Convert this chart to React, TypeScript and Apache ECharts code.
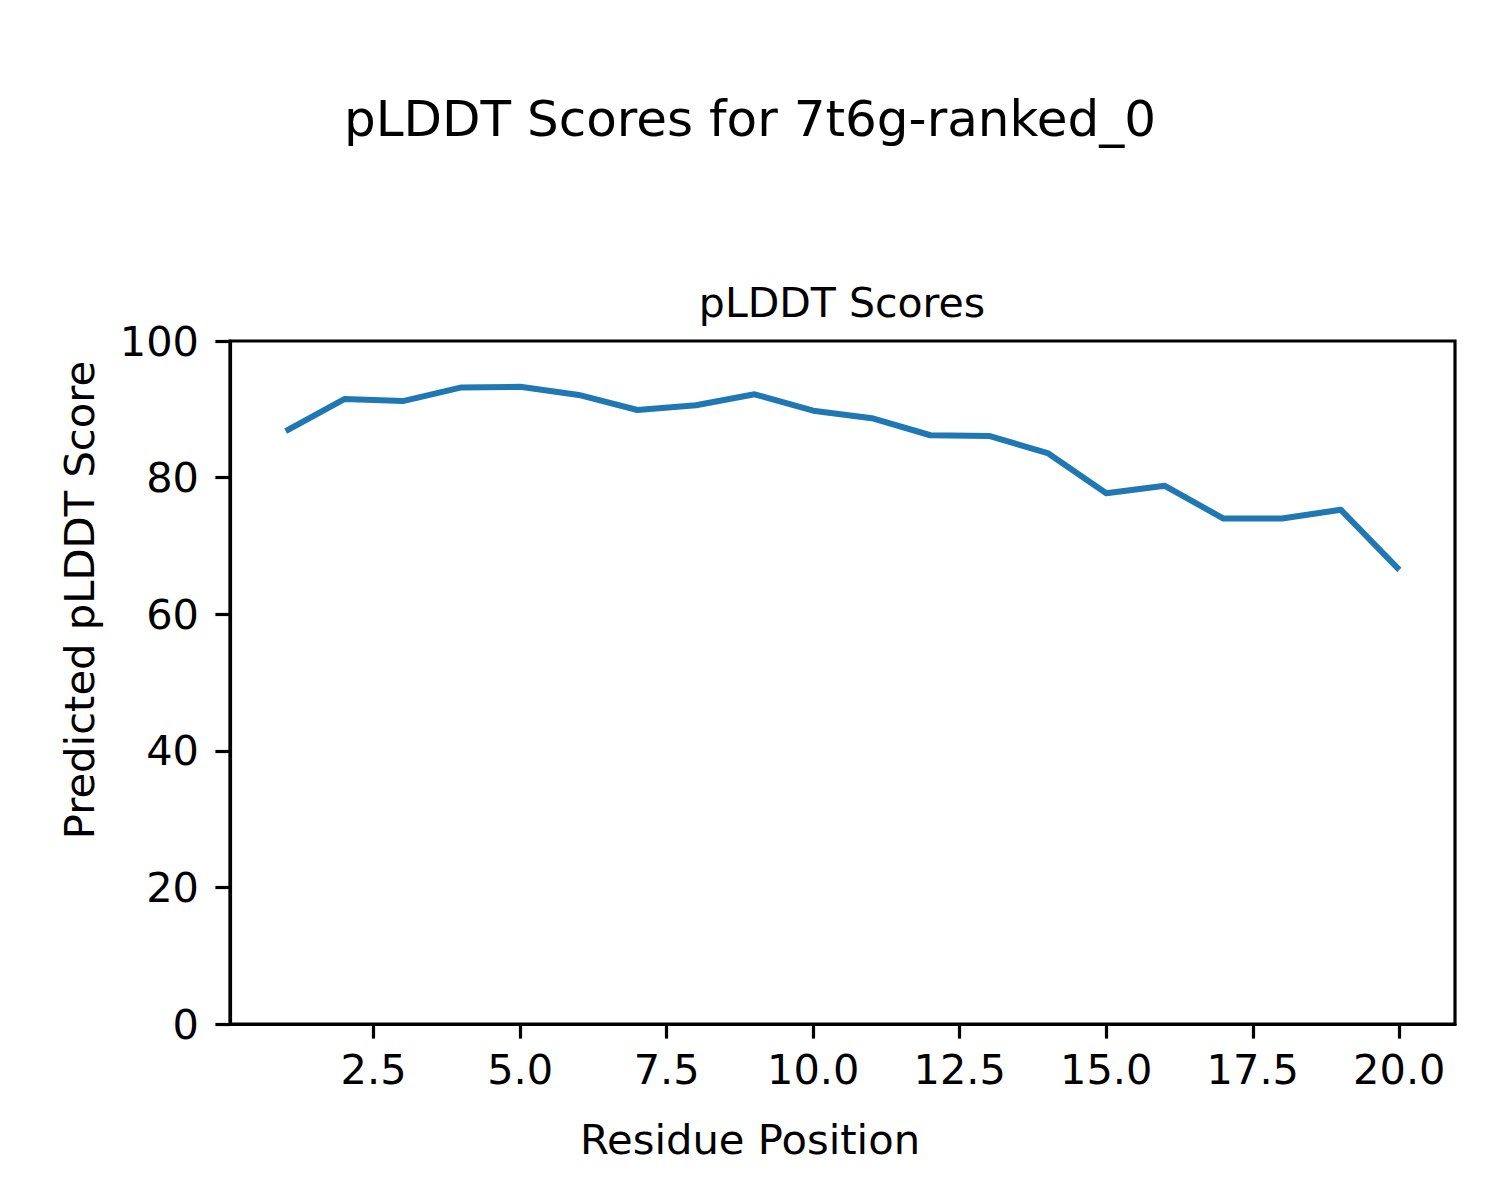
import React, { useEffect, useRef } from "react";
import * as echarts from "echarts";

const residuePositions = [1, 2, 3, 4, 5, 6, 7, 8, 9, 10, 11, 12, 13, 14, 15, 16, 17, 18, 19, 20];
const plddtScores = [86.8, 91.5, 91.2, 93.2, 93.3, 92.1, 89.9, 90.6, 92.2, 89.8, 88.7, 86.2, 86.1, 83.6, 77.7, 78.8, 74.0, 74.0, 75.3, 66.5];
const xTickValues = [2.5, 5.0, 7.5, 10.0, 12.5, 15.0, 17.5, 20.0];

const FONT = "DejaVu Sans";

function textEl(text: string, x: number, y: number, fontSize: number, rotation = 0) {
  return {
    type: "text",
    x,
    y,
    rotation,
    style: {
      text,
      fontFamily: FONT,
      fontSize,
      fill: "#000",
      align: "center",
      verticalAlign: "middle",
      textAlign: "center",
      textVerticalAlign: "middle",
    },
  };
}

export default function App() {
  const ref = useRef<HTMLDivElement>(null);
  useEffect(() => {
    if (!ref.current) return;
    const chart = echarts.init(ref.current, undefined, { renderer: "svg" });
    const data = residuePositions.map((x, i) => [x, plddtScores[i]]);
    chart.setOption({
      animation: false,
      backgroundColor: "#ffffff",
      graphic: [
        textEl("pLDDT Scores for 7t6g-ranked_0", 750, 119, 50),
        textEl("pLDDT Scores", 842, 303, 41),
        textEl("Residue Position", 750, 1139, 41.7),
        textEl("Predicted pLDDT Score", 79, 600, 41.7, Math.PI / 2),
      ],
      grid: {
        left: 230,
        right: 45,
        top: 341,
        bottom: 176,
        show: true,
        borderColor: "#000",
        borderWidth: 3.2,
        backgroundColor: "transparent",
      },
      xAxis: {
        type: "value",
        min: 0.05,
        max: 20.95,
        splitLine: { show: false },
        axisLine: { show: true, onZero: false, lineStyle: { color: "#000", width: 3.2 } },
        axisTick: {
          show: true,
          customValues: xTickValues,
          length: 14.6,
          lineStyle: { color: "#000", width: 3.2 },
        },
        axisLabel: {
          customValues: xTickValues,
          margin: 24,
          fontFamily: FONT,
          fontSize: 41.5,
          color: "#000",
          formatter: (v: number) => v.toFixed(1),
        },
      },
      yAxis: {
        type: "value",
        min: 0,
        max: 100,
        interval: 20,
        splitLine: { show: false },
        axisLine: { show: true, lineStyle: { color: "#000", width: 3.2 } },
        axisTick: { show: true, length: 14.6, lineStyle: { color: "#000", width: 3.2 } },
        axisLabel: { margin: 31, fontFamily: FONT, fontSize: 41.5, color: "#000" },
      },
      series: [
        {
          type: "line",
          data,
          showSymbol: false,
          symbol: "none",
          lineStyle: { color: "#1f77b4", width: 6, cap: "butt", join: "round" },
        },
      ],
    });
    return () => chart.dispose();
  }, []);
  return (
    <div
      ref={ref}
      style={{ position: "absolute", left: 0, top: 0, width: 1500, height: 1200 }}
    />
  );
}
